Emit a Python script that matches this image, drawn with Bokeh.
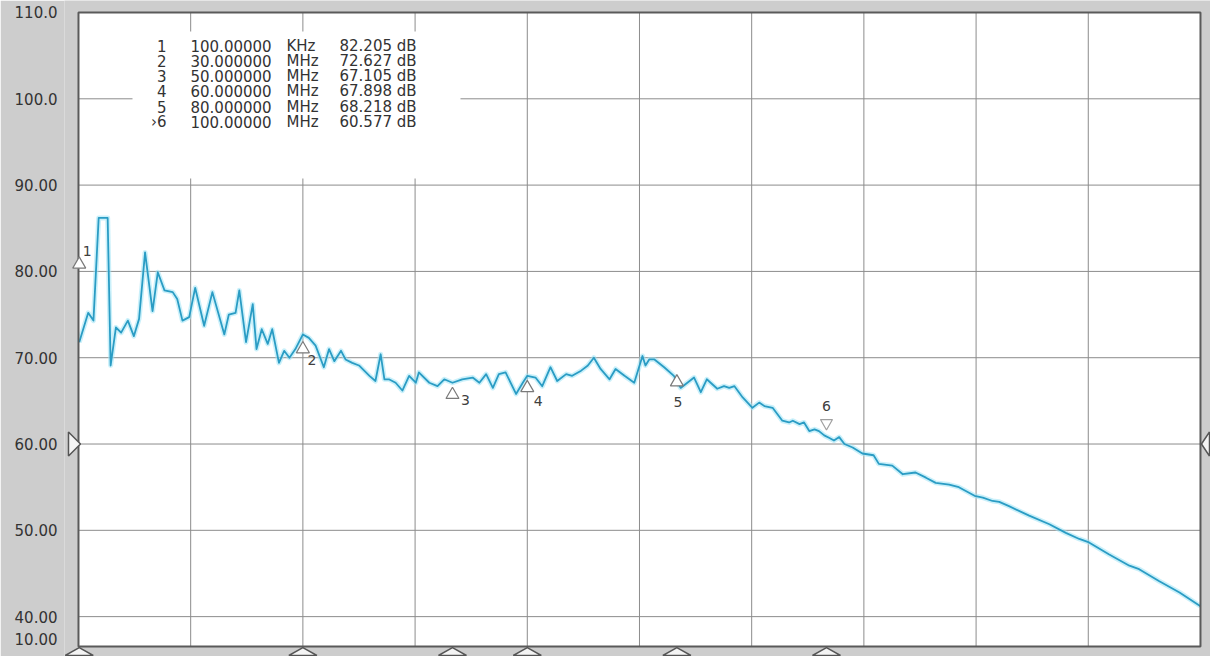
from bokeh.plotting import figure
from bokeh.models import Range1d, FixedTicker
from bokeh.core.properties import value
from bokeh.embed import file_html
from bokeh.resources import INLINE

# ---------------- data ----------------
FREQ_MHZ = [0.1, 1.3, 2.0, 2.7, 3.9, 4.3, 5.0, 5.7, 6.6, 7.4,
            8.1, 8.9, 9.9, 10.6, 11.5, 12.6, 13.2, 13.9, 14.8, 15.6,
            16.8, 17.9, 19.5, 20.1, 21.0, 21.5, 22.4, 23.3, 23.8, 24.5,
            25.3, 25.9, 26.8, 27.5, 28.2, 29.0, 30.0, 30.8, 31.7, 32.8,
            33.5, 34.2, 35.1, 35.7, 36.6, 37.5, 38.9, 39.7, 40.4, 40.9,
            41.5, 42.4, 43.3, 44.2, 45.1, 45.5, 46.9, 48.0, 48.9, 50.0,
            51.3, 52.7, 53.6, 54.5, 55.4, 56.2, 57.1, 58.5, 59.4, 60.0,
            61.1, 62.0, 63.1, 64.0, 65.2, 66.0, 67.2, 68.1, 68.9, 69.8,
            71.0, 71.8, 73.0, 74.3, 75.4, 75.8, 76.3, 77.0, 78.3, 79.6,
            80.5, 81.4, 82.3, 83.2, 84.0, 85.4, 86.3, 87.0, 87.7, 88.8,
            90.1, 91.0, 91.7, 92.8, 94.1, 95.0, 95.5, 96.4, 97.0, 97.7,
            98.4, 99.0, 99.7, 100.4, 101.0, 101.7, 102.4, 103.5, 104.8, 106.3,
            107.0, 108.8, 110.2, 111.9, 113.3, 114.6, 116.4, 117.7, 119.8, 120.9,
            122.2, 123.1, 124.4, 127.1, 129.8, 132.0, 133.8, 135.1, 137.8, 140.5,
            141.8, 144.5, 147.2, 150.0]
LEVEL_DB = [71.8, 75.2, 74.3, 86.2, 86.2, 69.1, 73.5, 72.9, 74.3, 72.5,
            74.5, 82.2, 75.4, 79.9, 77.8, 77.6, 76.8, 74.3, 74.7, 78.1,
            73.7, 77.6, 72.7, 75.0, 75.2, 77.8, 71.8, 76.2, 71.0, 73.3,
            71.6, 73.3, 69.4, 70.8, 70.0, 71.0, 72.7, 72.3, 71.4, 68.9,
            71.0, 69.6, 70.8, 69.8, 69.4, 69.1, 67.9, 67.3, 70.4, 67.5,
            67.5, 67.1, 66.2, 67.9, 67.1, 68.3, 67.1, 66.7, 67.5, 67.1,
            67.5, 67.7, 67.1, 68.1, 66.5, 68.1, 68.3, 65.8, 67.1, 67.9,
            67.7, 66.7, 68.9, 67.3, 68.1, 67.9, 68.5, 69.1, 70.0, 68.7,
            67.5, 68.7, 67.9, 67.1, 70.2, 69.1, 69.8, 69.8, 68.9, 67.9,
            66.5, 67.1, 67.7, 66.0, 67.5, 66.4, 66.7, 66.5, 66.7, 65.4,
            64.2, 64.8, 64.4, 64.2, 62.7, 62.5, 62.7, 62.3, 62.5, 61.5,
            61.7, 61.5, 61.0, 60.7, 60.4, 60.8, 60.0, 59.6, 58.9, 58.7,
            57.7, 57.5, 56.5, 56.7, 56.1, 55.5, 55.3, 55.0, 54.0, 53.8,
            53.4, 53.3, 52.8, 51.7, 50.7, 49.7, 49.0, 48.6, 47.2, 45.9,
            45.5, 44.1, 42.8, 41.2]

MARKER_IDS = ["1", "2", "3", "4", "5", "6"]
MARKER_LIST_IDS = ["1", "2", "3", "4", "5", "\u203a6"]
MARKER_FREQ_MHZ = [0.1, 30.0, 50.0, 60.0, 80.0, 100.0]
MARKER_FREQ_TEXT = ["100.00000", "30.000000", "50.000000", "60.000000", "80.000000", "100.00000"]
MARKER_UNIT = ["KHz", "MHz", "MHz", "MHz", "MHz", "MHz"]
MARKER_DB = [82.205, 72.627, 67.105, 67.898, 68.218, 60.577]
ACTIVE_MARKER = "6"
REF_LEVEL_DB = 60.0

Y_TICKS = [37.35, 40.0, 50.0, 60.0, 70.0, 80.0, 90.0, 100.0, 110.0]
Y_TICK_LABELS = ["10.00", "40.00", "50.00", "60.00", "70.00", "80.00", "90.00", "100.0", "110.0"]
X_GRID_MHZ = [15, 30, 45, 60, 75, 90, 105, 120, 135]
X_SPAN = (0.0, 150.0)
Y_SPAN = (36.53, 110.0)

# ---------------- styles / layout ----------------
GRAY = "#cdcdcd"
TRACE = "#2a9cc4"
GLOW = "#9fe3f6"
GRID = "#8c8c8c"
TEXT = "#333333"
FONT = "DejaVu Sans"

W, H = 1210, 656
Y_RANGE = (35.38, 111.39)
X_RANGE = (-1.87, 151.34)
PX_PER_DB = H / (Y_RANGE[1] - Y_RANGE[0])
PX_PER_MHZ = (W - 64) / (X_RANGE[1] - X_RANGE[0])

# marker label offsets (px) and triangle offsets (px, down positive)
LABEL_DX = [8, 9, 13, 11, 1, 0]
LABEL_DY = [-1, 25, 17, 25, 29, -33]
TRI_DY = [12, 14, 12, 12, 9, -16]

p = figure(width=W, height=H, output_backend="svg", toolbar_location=None,
           x_range=Range1d(*X_RANGE), y_range=Range1d(*Y_RANGE),
           x_axis_location=None, min_border_left=64, min_border_right=0,
           min_border_top=0, min_border_bottom=0)
p.background_fill_color = GRAY
p.border_fill_color = GRAY
p.outline_line_color = None
p.xgrid.visible = False
p.ygrid.visible = False

ax = p.yaxis[0]
ax.ticker = FixedTicker(ticks=Y_TICKS)
ax.major_label_overrides = dict(zip(Y_TICKS, Y_TICK_LABELS))
ax.axis_line_color = None
ax.major_tick_line_color = None
ax.minor_tick_line_color = None
ax.major_tick_out = 0
ax.major_tick_in = 0
ax.major_label_standoff = 7
ax.major_label_text_font = FONT
ax.major_label_text_font_size = "15px"
ax.major_label_text_color = TEXT

# plot area
p.quad(left=[X_SPAN[0]], right=[X_SPAN[1]], bottom=[Y_SPAN[0]], top=[Y_SPAN[1]],
       fill_color="white", line_color=None)

# grid
n = len(X_GRID_MHZ)
p.segment(x0=X_GRID_MHZ, y0=[Y_SPAN[0]] * n, x1=X_GRID_MHZ, y1=[Y_SPAN[1]] * n,
          line_color=GRID, line_width=1)
gy = [t for t in Y_TICKS if 40 <= t < 110]
p.segment(x0=[X_SPAN[0]] * len(gy), y0=gy, x1=[X_SPAN[1]] * len(gy), y1=gy,
          line_color=GRID, line_width=1)

# marker list box (covers grid)
box_left = (140 - 86) / PX_PER_MHZ
box_right = (468 - 86) / PX_PER_MHZ
box_top = Y_SPAN[1] - 19 / PX_PER_DB
box_bottom = Y_SPAN[1] - 166 / PX_PER_DB
p.quad(left=[box_left], right=[box_right], bottom=[box_bottom], top=[box_top],
       fill_color="white", line_color=None)

# trace
p.line(FREQ_MHZ, LEVEL_DB, line_color=GLOW, line_width=5, line_alpha=0.55, line_join="round")
p.line(FREQ_MHZ, LEVEL_DB, line_color=TRACE, line_width=1.8, line_join="round")

# plot border
p.quad(left=[X_SPAN[0]], right=[X_SPAN[1]], bottom=[Y_SPAN[0]], top=[Y_SPAN[1]],
       fill_color=None, line_color="#5a5a5a", line_width=2)

# marker triangles on the trace
up_x, up_y, dn_x, dn_y = [], [], [], []
for mid, f, v, d in zip(MARKER_IDS, MARKER_FREQ_MHZ, MARKER_DB, TRI_DY):
    if mid == ACTIVE_MARKER:
        dn_x.append(f); dn_y.append(v - d / PX_PER_DB)
    else:
        up_x.append(f); up_y.append(v - d / PX_PER_DB)
p.scatter(up_x, up_y, marker="triangle", size=13, fill_color="white",
          line_color="#7a7a7a", line_width=1.2)
p.scatter(dn_x, dn_y, marker="inverted_triangle", size=12, fill_color="white",
          line_color="#a0a0a0", line_width=1.2)
p.text(x=MARKER_FREQ_MHZ, y=MARKER_DB, text=MARKER_IDS, x_offset=LABEL_DX, y_offset=LABEL_DY,
       text_font=value(FONT), text_font_size="14px", text_color="#404040",
       text_align="center", text_baseline="middle")

# marker list
row0 = Y_SPAN[1] - 33.3 / PX_PER_DB
step = 15.2 / PX_PER_DB
rows = [row0 - i * step for i in range(len(MARKER_IDS))]
col = lambda px: (px - 86) / PX_PER_MHZ
common = dict(text_font=value(FONT), text_font_size="15px", text_color=TEXT,
              text_baseline="middle")
p.text(x=[col(174)] * 6, y=rows, text=MARKER_LIST_IDS, text_align="right", **common)
p.text(x=[col(198)] * 6, y=rows, text=MARKER_FREQ_TEXT, text_align="left", **common)
p.text(x=[col(294)] * 6, y=rows, text=MARKER_UNIT, text_align="left", **common)
p.text(x=[col(347)] * 6, y=rows, text=[f"{v:.3f} dB" for v in MARKER_DB],
       text_align="left", **common)

# marker flags under the plot
hw = 14 / PX_PER_MHZ
apex = Y_SPAN[0] - 1 / PX_PER_DB
base = Y_RANGE[0] + 1 / PX_PER_DB
p.patches(xs=[[f - hw, f, f + hw] for f in MARKER_FREQ_MHZ],
          ys=[[base, apex, base] for _ in MARKER_FREQ_MHZ],
          fill_color="#f4f4f4", line_color="#555555", line_width=1.5)

# reference level arrows
hh = 12 / PX_PER_DB
p.patches(xs=[[X_SPAN[0] - 10 / PX_PER_MHZ, X_SPAN[0] + 2 / PX_PER_MHZ, X_SPAN[0] - 10 / PX_PER_MHZ],
              [X_RANGE[1] - 1 / PX_PER_MHZ, X_SPAN[1] + 1 / PX_PER_MHZ, X_RANGE[1] - 1 / PX_PER_MHZ]],
          ys=[[REF_LEVEL_DB + hh, REF_LEVEL_DB, REF_LEVEL_DB - hh]] * 2,
          fill_color="#f4f4f4", line_color="#555555", line_width=1.5)

open("out.html", "w").write(file_html(p, INLINE))
